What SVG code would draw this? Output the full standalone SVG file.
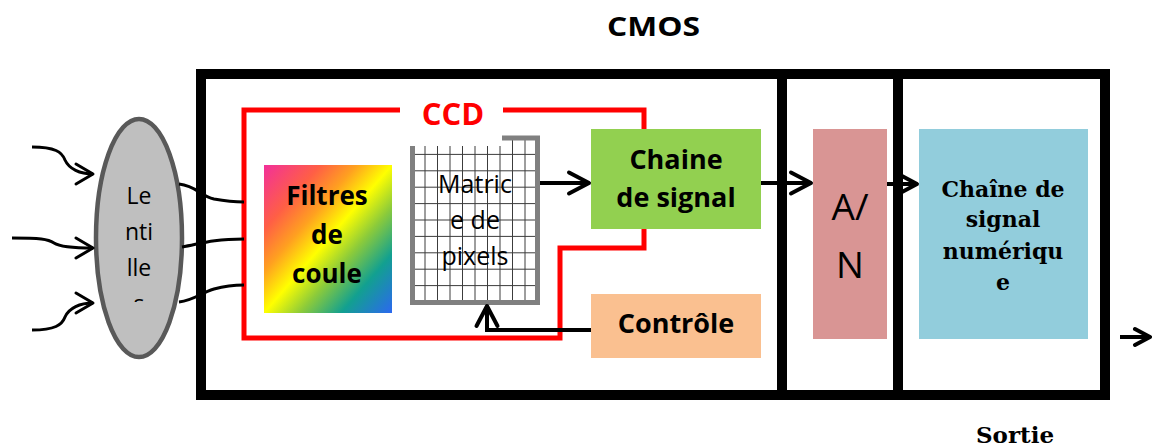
<svg xmlns="http://www.w3.org/2000/svg" width="1152" height="446" viewBox="0 0 1152 446">
<style>
.frame{fill:none;stroke:#000;stroke-width:10}
.red{fill:none;stroke:#FF0000;stroke-width:5}
.conn{fill:none;stroke:#000;stroke-width:4}
.curve{fill:none;stroke:#000;stroke-width:3}
.sans{font-family:"Open Sans","Liberation Sans",sans-serif;text-anchor:middle}
.b{font-weight:bold}
.serif{font-family:"DejaVu Serif","Liberation Serif",serif;font-weight:bold;text-anchor:middle}
.grid line{stroke:#3c3c3c;stroke-width:1}
</style>
<defs>
<marker id="ah" markerUnits="userSpaceOnUse" viewBox="0 0 24 24" refX="22" refY="12" markerWidth="24" markerHeight="24" orient="auto" overflow="visible">
<path d="M2,1.5 L22,12 L2,22.5" fill="none" stroke="#000" stroke-width="4" stroke-linecap="round" stroke-linejoin="round"/>
</marker>
<marker id="ahs" markerUnits="userSpaceOnUse" viewBox="0 0 18 18" refX="16" refY="9" markerWidth="18" markerHeight="18" orient="auto" overflow="visible">
<path d="M1,1 L16,9 L1,17" fill="none" stroke="#000" stroke-width="4" stroke-linecap="round" stroke-linejoin="round"/>
</marker>
<marker id="ahc" markerUnits="userSpaceOnUse" viewBox="0 0 20 22" refX="18" refY="11" markerWidth="20" markerHeight="22" orient="auto" overflow="visible">
<path d="M1,1 L18,11 L1,21" fill="none" stroke="#000" stroke-width="3" stroke-linecap="round" stroke-linejoin="round"/>
</marker>
<linearGradient id="rainbow" x1="0" y1="0" x2="1" y2="1">
<stop offset="0" stop-color="#F2309A"/>
<stop offset="0.22" stop-color="#FF5F45"/>
<stop offset="0.36" stop-color="#FFA020"/>
<stop offset="0.5" stop-color="#FFFF00"/>
<stop offset="0.64" stop-color="#8CCB3A"/>
<stop offset="0.8" stop-color="#12A090"/>
<stop offset="1" stop-color="#2C68F0"/>
</linearGradient>
<clipPath id="lensclip"><rect x="95" y="150" width="90" height="152"/></clipPath>
</defs>

<text class="sans b" x="653.5" y="36" font-size="26" textLength="93" lengthAdjust="spacingAndGlyphs">CMOS</text>

<g id="cmos-frame">
<rect class="frame" x="201" y="74" width="904" height="321"/>
<line class="frame" x1="782" y1="74" x2="782" y2="395"/>
<line class="frame" x1="898" y1="74" x2="898" y2="395"/>
</g>

<g id="ccd-frame">
<path class="red" d="M400,110 L244,110 L244,338 L560,338 L560,248 L644,248 L644,110 L503,110"/>
</g>

<g id="matrice">
<rect x="412.5" y="138" width="125" height="164.5" fill="#fff"/>
<g class="grid">
<line x1="425" y1="138" x2="425" y2="302"/>
<line x1="437.5" y1="138" x2="437.5" y2="302"/>
<line x1="450" y1="138" x2="450" y2="302"/>
<line x1="462.5" y1="138" x2="462.5" y2="302"/>
<line x1="475" y1="138" x2="475" y2="302"/>
<line x1="487.5" y1="138" x2="487.5" y2="302"/>
<line x1="500" y1="138" x2="500" y2="302"/>
<line x1="512.5" y1="138" x2="512.5" y2="302"/>
<line x1="525" y1="138" x2="525" y2="302"/>
<line x1="412" y1="154.4" x2="538" y2="154.4"/>
<line x1="412" y1="170.8" x2="538" y2="170.8"/>
<line x1="412" y1="187.2" x2="538" y2="187.2"/>
<line x1="412" y1="203.6" x2="538" y2="203.6"/>
<line x1="412" y1="220" x2="538" y2="220"/>
<line x1="412" y1="236.4" x2="538" y2="236.4"/>
<line x1="412" y1="252.8" x2="538" y2="252.8"/>
<line x1="412" y1="269.2" x2="538" y2="269.2"/>
<line x1="412" y1="285.6" x2="538" y2="285.6"/>
</g>
<rect x="412.5" y="138" width="125" height="164.5" fill="none" stroke="#808080" stroke-width="5"/>
<text class="sans" font-size="25"><tspan x="475" y="193">Matric</tspan><tspan x="475" y="229">e de</tspan><tspan x="475" y="265">pixels</tspan></text>
</g>

<g id="ccd-label">
<rect x="402" y="96" width="100" height="50" fill="#fff"/>
<text class="sans b" x="453" y="125" font-size="31" fill="#FF0000">CCD</text>
</g>

<g id="filtres">
<rect x="264" y="165" width="128" height="148" fill="url(#rainbow)"/>
<text class="sans b" font-size="26"><tspan x="327" y="205">Filtres</tspan><tspan x="327" y="244">de</tspan><tspan x="327" y="283">coule</tspan></text>
</g>

<g id="chaine-signal">
<rect x="591" y="129" width="170" height="100" fill="#92D050"/>
<text class="sans b" font-size="27"><tspan x="676" y="169">Chaine</tspan><tspan x="676" y="207">de signal</tspan></text>
</g>

<g id="controle">
<rect x="591" y="294" width="170" height="64" fill="#FAC090"/>
<text class="sans b" x="676" y="333" font-size="27">Contrôle</text>
</g>

<g id="convertisseur">
<rect x="813" y="129" width="74" height="210" fill="#D99594"/>
<text class="sans" font-size="37"><tspan x="850" y="220">A/</tspan><tspan x="850" y="278">N</tspan></text>
</g>

<g id="chaine-numerique">
<rect x="919" y="129" width="169" height="210" fill="#92CDDC"/>
<text class="serif" font-size="22"><tspan x="1003" y="197">Chaîne de</tspan><tspan x="1003" y="227">signal</tspan><tspan x="1003" y="259">numériqu</tspan><tspan x="1003" y="290">e</tspan></text>
</g>

<g id="lentilles">
<ellipse cx="139" cy="238" rx="43" ry="119" fill="#BFBFBF" stroke="#595959" stroke-width="4.5"/>
<g clip-path="url(#lensclip)">
<text class="sans" font-size="23"><tspan x="139" y="204">Le</tspan><tspan x="139" y="240">nti</tspan><tspan x="139" y="276">lle</tspan><tspan x="139" y="312">s</tspan></text>
</g>
</g>

<g id="connecteurs">
<path class="curve" d="M32,147 C55,147 62,152 65,160 C69,169 80,174 93,174" marker-end="url(#ahc)"/>
<path class="curve" d="M12,238 C40,238 48,239 54,243 C60,247 78,248 93,248" marker-end="url(#ahc)"/>
<path class="curve" d="M32,330 C55,330 62,325 65,317 C69,308 80,303 93,303" marker-end="url(#ahc)"/>
<path class="curve" d="M179,184 C197,186 200,196 214,199 C225,201 235,202 244,202"/>
<path class="curve" d="M182,247 C200,244 210,239 244,239"/>
<path class="curve" d="M179,302 C195,300 200,293 214,289 C225,286 235,285 244,285"/>
<line class="conn" x1="540" y1="183" x2="589" y2="183" marker-end="url(#ah)"/>
<line class="conn" x1="761" y1="183" x2="811" y2="183" marker-end="url(#ah)"/>
<line class="conn" x1="887" y1="184" x2="917" y2="184" marker-end="url(#ahs)"/>
<polyline class="conn" points="591,330 487,330 487,306" marker-end="url(#ah)"/>
<line class="conn" x1="1120" y1="337" x2="1150" y2="337" marker-end="url(#ahs)"/>
</g>

<text class="serif" x="1015" y="443" font-size="23">Sortie</text>
</svg>
